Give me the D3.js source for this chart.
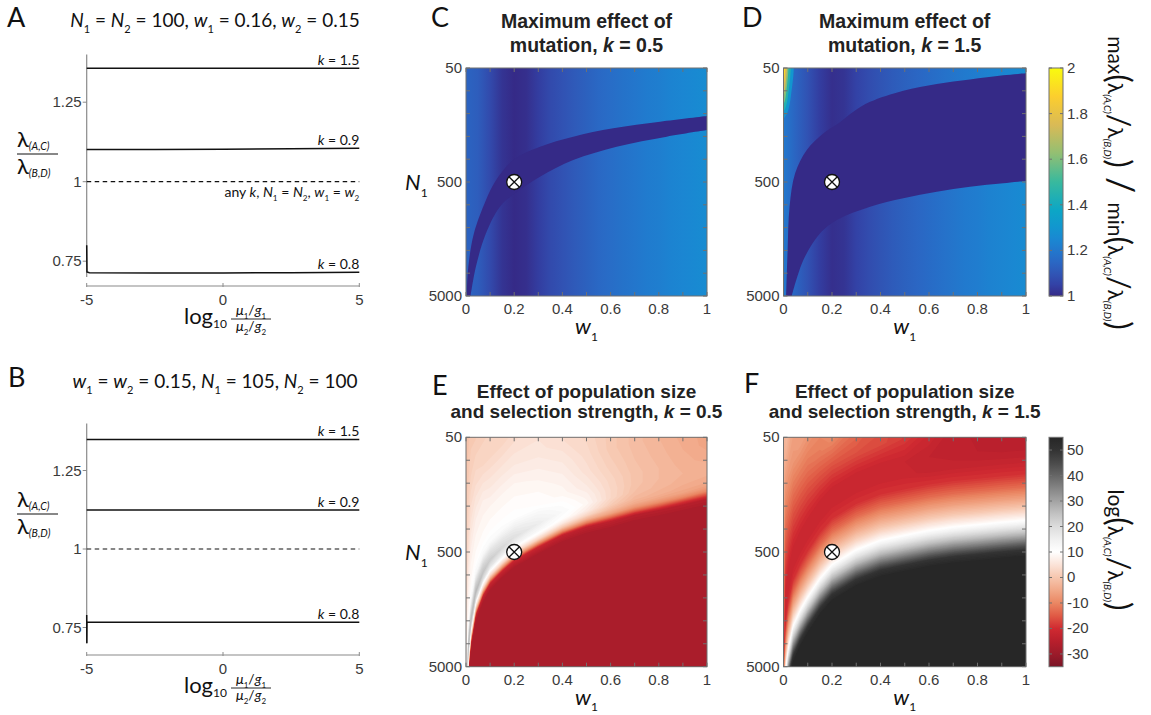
<!DOCTYPE html>
<html>
<head>
<meta charset="utf-8">
<script src="https://cdn.jsdelivr.net/npm/d3@7"></script>
<style>
  html, body { margin: 0; padding: 0; background: #fff; }
  svg { display: block; }
</style>
</head>
<body>
<script>
// ================= data =================
// Panels A and B: ratio of long-run growth rates against log10 of the mutation/generation ratio
const muTicks = [-5, 0, 5];
const ratioTicks = [0.75, 1, 1.25];
const ratioTickLabels = ["0.75", "1", "1.25"];

const aX = [-5, -2.5, 0, 2.5, 5];
const aK15 = [1.357, 1.357, 1.357, 1.357, 1.357];
const aK09 = [1.101, 1.101, 1.102, 1.104, 1.105];
const aK08X = [-5, -4.99, -4.9, -2.5, 0, 2.5, 5];
const aK08 = [0.80, 0.716, 0.714, 0.713, 0.713, 0.714, 0.715];

const bX = [-5, -2.5, 0, 2.5, 5];
const bK15 = [1.349, 1.349, 1.349, 1.349, 1.349];
const bK09 = [1.124, 1.124, 1.124, 1.124, 1.124];
const bK08X = [-5, -4.995, -4.99, -2.5, 0, 2.5, 5];
const bK08 = [0.79, 0.70, 0.767, 0.767, 0.767, 0.767, 0.767];

const neutralX = [-5, 5];
const neutralY = [1, 1];

// Heat-map axes
const wTicks = [0, 0.1, 0.2, 0.3, 0.4, 0.5, 0.6, 0.7, 0.8, 0.9, 1];
const wTickLabels = ["0", "", "0.2", "", "0.4", "", "0.6", "", "0.8", "", "1"];
const nLabelTicks = [50, 500, 5000];
const maxRatioTicks = [1, 1.2, 1.4, 1.6, 1.8, 2];
const logRatioTicks = [-30, -20, -10, 0, 10, 20, 30, 40, 50];
const marker = { w: 0.2, n: 500 };

// Panels C and D: background value across w1, dark band where the ratio is ~1
const stripeW = [0, 0.05, 0.1, 0.15, 0.2, 0.25, 0.3, 0.35, 0.4, 0.45, 0.5, 0.55, 0.6, 0.65, 0.7, 0.75, 0.8, 0.85, 0.9, 0.95, 1];
const cStripe = [1.14, 1.12, 1.07, 1.02, 1.0, 1.01, 1.04, 1.07, 1.09, 1.11, 1.13, 1.15, 1.165, 1.18, 1.195, 1.21, 1.22, 1.235, 1.245, 1.255, 1.265];
const dStripe = [1.2, 1.14, 1.09, 1.04, 1.01, 1.02, 1.05, 1.075, 1.095, 1.115, 1.13, 1.145, 1.16, 1.175, 1.19, 1.205, 1.215, 1.23, 1.24, 1.25, 1.26];

const cUpW = [0.003, 0.0097, 0.033, 0.083, 0.12, 0.196, 0.307, 0.445, 0.611, 0.805, 1.0];
const cUpN = [5000, 2770, 1410, 720, 500, 321, 245, 200, 169, 148, 132];
const cLoW = [0.019, 0.041, 0.083, 0.141, 0.203, 0.307, 0.445, 0.625, 0.833, 1.0];
const cLoN = [5000, 2770, 1410, 823, 629, 449, 321, 245, 200, 175];

const dUpW = [0.011, 0.017, 0.025, 0.048, 0.096, 0.165, 0.227, 0.288, 0.357, 0.494, 0.632, 0.769, 0.906, 1.0];
const dUpN = [5000, 1974, 823, 420, 262, 187, 153, 121, 99, 79, 69, 63, 58, 55.7];
const dLoW = [0.034, 0.082, 0.151, 0.22, 0.357, 0.494, 0.632, 0.769, 0.906, 1.0];
const dLoN = [5000, 2417, 1410, 1077, 823, 695, 608, 550, 513, 490];

// hot corner of panel D (small w1, small N1): nested level outlines
const hotLevels = [1.3, 1.45, 1.6, 1.75, 1.9];
const hotW = [[0, 0.035, 0.03, 0.015, 0], [0, 0.024, 0.018, 0.008, 0], [0, 0.016, 0.012, 0.005, 0], [0, 0.011, 0.008, 0], [0, 0.007, 0.004, 0]];
const hotN = [[40, 40, 90, 125, 140], [40, 40, 90, 112, 120], [40, 40, 80, 98, 104], [40, 40, 72, 90], [40, 40, 62, 72]];

// Panels E and F: log ratio sampled on columns of w1 and rows of offset (decades of N1)
// from a reference curve N1 = ref(w1)
const eW = [0, 0.005, 0.01, 0.02, 0.04, 0.07, 0.1, 0.15, 0.2, 0.3, 0.4, 0.5, 0.6, 0.7, 0.8, 0.9, 1.0];
const eRefN = [31600, 8500, 5000, 2950, 1660, 1120, 870, 680, 550, 420, 330, 280, 250, 220, 200, 180, 160];
const eD = [-2.8, -2.0, -1.5, -1.1, -0.8, -0.6, -0.45, -0.33, -0.24, -0.17, -0.11, -0.07, -0.035, 0, 0.035, 0.1, 1.6];
const eCols = [
  [-1, 0, 1.5, 3, 5, 8, 9, 10.5, 13, 15, 13, 9, 3, -8, -22, -28, -28],
  [-1, 0, 2, 4, 6, 8, 9, 12, 19, 22, 17, 9, 3, -8, -22, -28, -28],
  [-0.5, -0.5, 1.5, 4, 6.5, 8, 9, 13, 22, 27, 20, 9, 3, -8, -22, -28, -28],
  [0, 0, 1.5, 4.5, 7, 8.5, 9.5, 13, 22, 27, 20, 9, 3, -8, -22, -28, -28],
  [0.5, 0.5, 1, 4, 7, 8.5, 9.5, 13, 22, 27, 20, 9, 3, -8, -22, -28, -28],
  [1, 1, 1, 3, 7, 8.5, 9.5, 12.5, 21, 25, 19, 9, 3, -8, -22, -28, -28],
  [1.5, 1.5, 1.5, 2.5, 6, 8.5, 9.5, 12, 19, 23, 17.5, 9, 3, -8, -22, -28, -28],
  [2, 2, 2, 2.5, 6, 8.5, 9.5, 11.5, 17.5, 21, 16, 9, 3, -8, -22, -28, -28],
  [3, 3, 3, 3, 6, 8.5, 9.5, 11, 16, 19, 14.5, 8.5, 2.5, -8, -22, -28, -28],
  [4, 4, 4, 4, 5.5, 7.5, 9, 10, 13.5, 16, 12.5, 8, 2, -9, -22, -28, -28],
  [4, 4, 4, 4, 4, 6, 7.5, 8.5, 10.5, 12, 10, 6, 0, -10, -23, -28, -28],
  [2.5, 2.5, 2.5, 2.5, 2.5, 3.5, 4.5, 6, 7.5, 8.5, 6.5, 3, -3, -12, -24, -28, -28],
  [0.5, 0.5, 0.5, 0.5, 0.5, 0.5, 1.5, 2.5, 3, 3, 1, -2, -6, -14, -24, -28, -28],
  [-1.5, -1.5, -1.5, -1.5, -1.5, -1.5, -1, -0.5, -0.5, -1, -2.5, -4.5, -8, -15, -25, -28, -28],
  [-3, -3, -3, -3, -3, -3, -2.5, -2, -2, -2.5, -3.5, -5.5, -9, -16, -25, -28, -28],
  [-4.5, -4.5, -4.5, -4.5, -4.5, -4.5, -4, -3.5, -3, -3.5, -4.5, -6, -9.5, -17, -25, -28, -28],
  [-5.5, -5.5, -5.5, -5.5, -5.5, -5.5, -5.5, -4.5, -3.5, -4, -5, -6.5, -10, -17, -25, -28, -28]
];

const fW = [0, 0.005, 0.01, 0.02, 0.04, 0.07, 0.1, 0.15, 0.2, 0.3, 0.4, 0.5, 0.6, 0.7, 0.8, 0.9, 1.0];
const fRefN = [40000, 14000, 9300, 6300, 4000, 2900, 2240, 1550, 1170, 870, 720, 650, 590, 550, 525, 500, 480];
const fD = [-2.9, -2.2, -1.7, -1.35, -1.1, -0.9, -0.78, -0.66, -0.55, -0.45, -0.36, -0.27, -0.2, -0.13, -0.07, 0, 0.05, 1.1];
const fCols = [
  [-1, -4, -7, -9.5, -11, -12, -14, -16, -13, -6, 1, 9, 18, 28, 38, 50, 54, 54],
  [-1.2, -4.6, -11.3, -15.9, -19.3, -22, -21.5, -19, -13, -6, 1, 9, 18, 28, 38, 50, 54, 54],
  [-1.5, -2.5, -10, -15.3, -19, -22, -21.5, -19, -13, -6, 1, 9, 18, 28, 38, 50, 54, 54],
  [-2, -2, -8.7, -14.5, -18.7, -22, -21.5, -19, -13, -6, 1, 9, 18, 28, 38, 50, 54, 54],
  [-4, -4, -7.6, -13.9, -18.4, -22, -21.5, -19, -13, -6, 1, 9, 18, 28, 38, 50, 54, 54],
  [-5.5, -5.5, -6.7, -13.4, -18.2, -22, -21.5, -19, -13, -6, 1, 9, 18, 28, 38, 50, 54, 54],
  [-7, -7, -7, -13, -18, -22, -21.5, -19, -13, -6, 1, 9, 18, 28, 38, 50, 54, 54],
  [-8, -8, -8, -11.3, -17.2, -22, -21.5, -19, -13, -6, 1, 9, 18, 28, 38, 50, 54, 54],
  [-9, -9, -9, -9.6, -16.5, -22, -21.5, -19, -13, -6, 1, 9, 18, 28, 38, 50, 54, 54],
  [-12, -12, -12, -12, -16.1, -22, -21.5, -19, -13, -6, 1, 9, 18, 28, 38, 50, 54, 54],
  [-15, -15, -15, -15, -16.6, -22, -21.5, -19, -13, -6, 1, 9, 18, 28, 38, 50, 54, 54],
  [-18, -18, -18, -18, -18.2, -22, -21.5, -19, -13, -6, 1, 9, 18, 28, 38, 50, 54, 54],
  [-21, -21, -21, -21, -21, -23, -22.5, -19, -13, -6, 1, 9, 18, 28, 38, 50, 54, 54],
  [-23.5, -23.5, -23.5, -23.5, -23.5, -23.5, -22.5, -19, -13, -6, 1, 9, 18, 28, 38, 50, 54, 54],
  [-24.5, -24.5, -24.5, -24.5, -24.5, -24, -22.5, -19, -13, -6, 1, 9, 18, 28, 38, 50, 54, 54],
  [-25, -25, -25, -25, -25, -24.5, -22.5, -19, -13, -6, 1, 9, 18, 28, 38, 50, 54, 54],
  [-25, -25, -25, -25, -25, -24.5, -22.5, -19, -13, -6, 1, 9, 18, 28, 38, 50, 54, 54]
];

// colour maps
const parulaStops = [1, 1.05, 1.1, 1.15, 1.2, 1.25, 1.3, 1.375, 1.5, 1.625, 1.75, 1.875, 2];
const parulaColors = ["#352a87", "#3342a6", "#3056b6", "#2a68c4", "#2278cd", "#1a88d2", "#1296cf", "#0ca6c6", "#38b99e", "#92bf73", "#d9ba56", "#fcce2e", "#f9fb0e"];
const logStops = [-35, -30, -25, -20, -15, -10, -5, 0, 5, 10, 15, 20, 25, 30, 35, 40, 45, 50, 55];
const logColors = ["#7a1526", "#9c1b2a", "#b81f2c", "#d02a31", "#e05a45", "#ea8763", "#f1a888", "#f6c6ae", "#fbe3d8", "#ffffff", "#f0f0f0", "#dcdcdc", "#c2c2c2", "#a3a3a3", "#858585", "#666666", "#4a4a4a", "#333333", "#262626"];

// ================= drawing =================
const HUM = "Lato, 'Open Sans', 'DejaVu Sans', sans-serif";
const HELV = "'Liberation Sans', Arial, Helvetica, sans-serif";
const parula = d3.scaleLinear().domain(parulaStops).range(parulaColors).clamp(true);
const logColor = d3.scaleLinear().domain(logStops).range(logColors).clamp(true);

const svg = d3.select("body").append("svg").attr("width", 1151).attr("height", 715);
const defs = svg.append("defs");

function rich(sel, segs, size) {
  let cur = 0;
  segs.forEach(s => {
    if (typeof s === "string") s = { t: s };
    const fs = s.fs || (s.sub ? size * 0.58 : size);
    const target = s.sub ? size * (s.lift || 0.3) : 0;
    const ts = sel.append("tspan").text(s.t).attr("font-size", fs);
    if (target !== cur) ts.attr("dy", target - cur);
    cur = target;
    if (s.i) ts.attr("font-style", "italic");
    if (s.b) ts.attr("font-weight", "bold");
    if (s.dx) ts.attr("dx", s.dx);
  });
  return sel;
}

function label(x, y, txt, size, opts = {}) {
  return svg.append("text").attr("x", x).attr("y", y)
    .attr("font-family", opts.family || HUM).attr("font-size", size)
    .attr("font-weight", opts.weight || null)
    .attr("text-anchor", opts.anchor || "start")
    .attr("fill", opts.fill || "#111").text(txt);
}

// ---------- panels A and B ----------
function linePanel(p) {
  const g = svg.append("g");
  const x = d3.scaleLinear().domain([-5, 5]).range([86.7, 359.3]);
  const y = d3.scaleLinear().domain([0.7, 1.4]).range([p.yLow, p.yHigh]);
  const axisCol = "#8a8a8a";
  g.append("line").attr("x1", x(-5)).attr("x2", x(-5)).attr("y1", y(1.4)).attr("y2", y(0.7))
    .attr("stroke", axisCol).attr("stroke-width", 1.2);
  ratioTicks.forEach((v, i) => {
    g.append("line").attr("x1", x(-5) - 4).attr("x2", x(-5)).attr("y1", y(v)).attr("y2", y(v))
      .attr("stroke", axisCol).attr("stroke-width", 1);
    g.append("text").attr("x", x(-5) - 5).attr("y", y(v) + 5).attr("text-anchor", "end")
      .attr("font-family", HELV).attr("font-size", 15).attr("fill", "#3a3a3a").text(ratioTickLabels[i]);
  });
  g.append("line").attr("x1", x(-5)).attr("x2", x(5)).attr("y1", p.axisY).attr("y2", p.axisY)
    .attr("stroke", axisCol).attr("stroke-width", 1.2);
  muTicks.forEach(v => {
    g.append("line").attr("x1", x(v)).attr("x2", x(v)).attr("y1", p.axisY - 3).attr("y2", p.axisY + 1)
      .attr("stroke", axisCol).attr("stroke-width", 1);
    g.append("text").attr("x", x(v)).attr("y", p.axisY + 19).attr("text-anchor", "middle")
      .attr("font-family", HELV).attr("font-size", 15).attr("fill", "#3a3a3a").text(String(v));
  });
  const line = d3.line().x(d => x(d[0])).y(d => y(d[1]));
  p.series.forEach(s => {
    g.append("path").datum(d3.zip(s.x, s.y)).attr("d", line).attr("fill", "none")
      .attr("stroke", "#111").attr("stroke-width", s.dash ? 1.2 : 1.5)
      .attr("stroke-dasharray", s.dash || null);
    if (s.k) {
      const t = g.append("text").attr("x", x(5)).attr("y", y(s.y[s.y.length - 1]) - 3.5)
        .attr("text-anchor", "end").attr("font-family", HUM).attr("font-size", 14).attr("fill", "#111");
      rich(t, [{ t: "k", i: true }, " = " + s.k], 14);
    }
  });
  if (p.note) {
    const t = g.append("text").attr("x", x(5)).attr("y", y(1) + 15).attr("text-anchor", "end")
      .attr("font-family", HUM).attr("font-size", 14).attr("fill", "#111");
    rich(t, ["any ", { t: "k", i: true }, ", ", { t: "N", i: true }, { t: "1", sub: true }, " = ",
      { t: "N", i: true }, { t: "2", sub: true }, ", ", { t: "w", i: true }, { t: "1", sub: true }, " = ",
      { t: "w", i: true }, { t: "2", sub: true }], 14);
  }
  // y label: lambda ratio
  const ly = p.fracY;
  const t1 = g.append("text").attr("x", 17).attr("y", ly - 7).attr("font-family", HUM).attr("font-size", 22).attr("fill", "#111");
  rich(t1, ["\u03bb", { t: "(A,C)", sub: true, i: true, fs: 10.5, lift: 0.15 }], 22);
  g.append("line").attr("x1", 17).attr("x2", 58).attr("y1", ly).attr("y2", ly).attr("stroke", "#111").attr("stroke-width", 1);
  const t2 = g.append("text").attr("x", 17).attr("y", ly + 20).attr("font-family", HUM).attr("font-size", 22).attr("fill", "#111");
  rich(t2, ["\u03bb", { t: "(B,D)", sub: true, i: true, fs: 10.5, lift: 0.15 }], 22);
  // x label: log10 of (mu1/g1)/(mu2/g2)
  const bx = p.labelY;
  const lt = g.append("text").attr("x", 184).attr("y", bx).attr("font-family", HUM).attr("font-size", 22).attr("fill", "#111");
  rich(lt, ["log", { t: "10", sub: true, fs: 12, lift: 0.2 }], 22);
  const fx = 251;
  const num = g.append("text").attr("x", fx).attr("y", bx - 9).attr("text-anchor", "middle").attr("font-family", HUM).attr("font-size", 14).attr("fill", "#111");
  rich(num, [{ t: "\u03bc", i: true }, { t: "1", sub: true, fs: 8 }, "/", { t: "g", i: true }, { t: "1", sub: true, fs: 8 }], 14);
  g.append("line").attr("x1", 231).attr("x2", 271).attr("y1", bx - 5).attr("y2", bx - 5).attr("stroke", "#111").attr("stroke-width", 0.9);
  const den = g.append("text").attr("x", fx).attr("y", bx + 7).attr("text-anchor", "middle").attr("font-family", HUM).attr("font-size", 14).attr("fill", "#111");
  rich(den, [{ t: "\u03bc", i: true }, { t: "2", sub: true, fs: 8 }, "/", { t: "g", i: true }, { t: "2", sub: true, fs: 8 }], 14);
  // title
  const tt = g.append("text").attr("x", 215).attr("y", p.titleY).attr("text-anchor", "middle")
    .attr("font-family", HUM).attr("font-size", 19).attr("fill", "#111");
  rich(tt, p.title, 19);
}

linePanel({
  yLow: 277.1, yHigh: 54.5, axisY: 286, fracY: 154, labelY: 324, titleY: 27, note: true,
  title: [{ t: "N", i: true }, { t: "1", sub: true }, " = ", { t: "N", i: true }, { t: "2", sub: true }, " = 100, ",
    { t: "w", i: true }, { t: "1", sub: true }, " = 0.16, ", { t: "w", i: true }, { t: "2", sub: true }, " = 0.15"],
  series: [
    { x: aX, y: aK15, k: "1.5" }, { x: aX, y: aK09, k: "0.9" }, { x: aK08X, y: aK08, k: "0.8" },
    { x: neutralX, y: neutralY, dash: "4.5,3.5" }
  ]
});
linePanel({
  yLow: 643.2, yHigh: 423.4, axisY: 655, fracY: 514, labelY: 693, titleY: 388, note: false,
  title: [{ t: "w", i: true }, { t: "1", sub: true }, " = ", { t: "w", i: true }, { t: "2", sub: true }, " = 0.15, ",
    { t: "N", i: true }, { t: "1", sub: true }, " = 105, ", { t: "N", i: true }, { t: "2", sub: true }, " = 100"],
  series: [
    { x: bX, y: bK15, k: "1.5" }, { x: bX, y: bK09, k: "0.9" }, { x: bK08X, y: bK08, k: "0.8" },
    { x: neutralX, y: neutralY, dash: "4.5,3.5" }
  ]
});

// ---------- heat-map panels ----------
function heatScales(box) {
  return {
    x: d3.scaleLinear().domain([0, 1]).range([box.x0, box.x1]),
    y: d3.scaleLog().domain([50, 5000]).range([box.y0, box.y1])
  };
}

function clipFor(id, box) {
  defs.append("clipPath").attr("id", id).append("rect")
    .attr("x", box.x0).attr("y", box.y0).attr("width", box.x1 - box.x0).attr("height", box.y1 - box.y0);
  return svg.append("g").attr("clip-path", `url(#${id})`);
}

function bandPanel(id, box, stripe, upW, upN, loW, loN, hot) {
  const { x, y } = heatScales(box);
  const g = clipFor(id, box);
  const grad = defs.append("linearGradient").attr("id", id + "-bg").attr("gradientUnits", "userSpaceOnUse")
    .attr("x1", x(0)).attr("x2", x(1)).attr("y1", 0).attr("y2", 0);
  stripeW.forEach((w, i) => grad.append("stop").attr("offset", w).attr("stop-color", parula(stripe[i])));
  g.append("rect").attr("x", box.x0).attr("y", box.y0).attr("width", box.x1 - box.x0).attr("height", box.y1 - box.y0)
    .attr("fill", `url(#${id}-bg)`);
  if (hot) {
    const hl = d3.line().x(d => x(d[0])).y(d => y(d[1])).curve(d3.curveCatmullRom);
    hotLevels.forEach((v, i) => {
      g.append("path").datum(d3.zip(hotW[i], hotN[i])).attr("d", d => hl(d) + "Z").attr("fill", parula(v));
    });
  }
  const edge = d3.line().x(d => x(d[0])).y(d => y(d[1])).curve(d3.curveCatmullRom);
  const upper = edge(d3.zip(upW, upN));
  const lower = edge(d3.zip(loW, loN).reverse());
  g.append("path").attr("d", upper + "L" + lower.slice(1) + "Z").attr("fill", parula(1));
  return { x, y };
}

function fieldPanel(id, box, W, refN, D, cols, thresholds) {
  const { x, y } = heatScales(box);
  const g = clipFor(id, box);
  const n = W.length, m = D.length;
  const values = new Array(n * m);
  cols.forEach((col, i) => col.forEach((v, j) => { values[j * n + i] = v; }));
  const gx = d3.scaleLinear().domain([0, ...d3.range(n).map(i => i + 0.5), n]).range([W[0], ...W, W[n - 1]]);
  const gy = d3.scaleLinear().domain([0, ...d3.range(m).map(j => j + 0.5), m]).range([D[0], ...D, D[m - 1]]);
  const ref = d3.scaleLinear().domain(W).range(refN.map(Math.log10));
  const proj = p => {
    const w = gx(p[0]);
    const ln = ref(w) + gy(p[1]);
    return x(w).toFixed(2) + "," + y(Math.pow(10, ln)).toFixed(2);
  };
  const step = thresholds[1] - thresholds[0];
  const bands = d3.contours().size([n, m]).thresholds(thresholds)(values);
  g.selectAll(null).data(bands).join("path")
    .attr("d", c => c.coordinates.map(poly => poly.map(ring => "M" + ring.map(proj).join("L") + "Z").join("")).join(""))
    .attr("fill", c => logColor(c.value + step / 2));
  return { x, y };
}

function heatAxes(box, sc, showN) {
  const g = svg.append("g");
  const col = "#707070";
  wTicks.forEach((v, i) => {
    g.append("line").attr("x1", sc.x(v)).attr("x2", sc.x(v)).attr("y1", box.y1).attr("y2", box.y1 - 4).attr("stroke", col);
    g.append("line").attr("x1", sc.x(v)).attr("x2", sc.x(v)).attr("y1", box.y0).attr("y2", box.y0 + 4).attr("stroke", col);
    if (wTickLabels[i]) g.append("text").attr("x", sc.x(v)).attr("y", box.y1 + 18).attr("text-anchor", "middle")
      .attr("font-family", HELV).attr("font-size", 15).attr("fill", "#3a3a3a").text(wTickLabels[i]);
  });
  const nTicks = d3.range(11).map(i => 50 * Math.pow(10, i / 5));
  nTicks.forEach(v => {
    g.append("line").attr("x1", box.x0).attr("x2", box.x0 + 4).attr("y1", sc.y(v)).attr("y2", sc.y(v)).attr("stroke", col);
    g.append("line").attr("x1", box.x1).attr("x2", box.x1 - 4).attr("y1", sc.y(v)).attr("y2", sc.y(v)).attr("stroke", col);
  });
  nLabelTicks.forEach(v => g.append("text").attr("x", box.x0 - 4).attr("y", sc.y(v) + 5).attr("text-anchor", "end")
    .attr("font-family", HELV).attr("font-size", 15).attr("fill", "#3a3a3a").text(String(v)));
  g.append("rect").attr("x", box.x0).attr("y", box.y0).attr("width", box.x1 - box.x0).attr("height", box.y1 - box.y0)
    .attr("fill", "none").attr("stroke", col).attr("stroke-width", 1);
  // marker at the reference parameter set
  const mx = sc.x(marker.w), my = sc.y(marker.n), r = 7.5, q = r * Math.SQRT1_2;
  g.append("circle").attr("cx", mx).attr("cy", my).attr("r", r).attr("fill", "#fff").attr("stroke", "#111").attr("stroke-width", 1.3);
  g.append("path").attr("d", `M${mx - q},${my - q}L${mx + q},${my + q}M${mx - q},${my + q}L${mx + q},${my - q}`)
    .attr("stroke", "#111").attr("stroke-width", 1.3);
  // axis labels
  const cx = (box.x0 + box.x1) / 2;
  const wl = g.append("text").attr("x", cx).attr("y", box.y1 + 38).attr("text-anchor", "middle")
    .attr("font-family", HUM).attr("font-size", 22).attr("fill", "#111");
  rich(wl, [{ t: "w", i: true }, { t: "1", sub: true, fs: 12 }], 22);
  if (showN) {
    const nl = g.append("text").attr("x", 405).attr("y", sc.y(500) + 8).attr("font-family", HUM)
      .attr("font-size", 22).attr("fill", "#111");
    rich(nl, [{ t: "N", i: true }, { t: "1", sub: true, fs: 12 }], 22);
  }
}

function heatTitle(cx, y1, lines, size, gap) {
  lines.forEach((segs, i) => {
    const t = svg.append("text").attr("x", cx).attr("y", y1 + i * gap).attr("text-anchor", "middle")
      .attr("font-family", HELV).attr("font-weight", "bold").attr("font-size", size).attr("fill", "#222");
    rich(t, segs, size);
  });
}

const boxC = { x0: 466, x1: 707, y0: 68, y1: 296 };
const boxD = { x0: 783.5, x1: 1026, y0: 68, y1: 296 };
const boxE = { x0: 466, x1: 707, y0: 437.3, y1: 666.7 };
const boxF = { x0: 783.5, x1: 1026, y0: 437.3, y1: 666.7 };

const scC = bandPanel("pc", boxC, cStripe, cUpW, cUpN, cLoW, cLoN, false);
heatAxes(boxC, scC, true);
const scD = bandPanel("pd", boxD, dStripe, dUpW, dUpN, dLoW, dLoN, true);
heatAxes(boxD, scD, false);

const logThresholds = d3.range(-36, 56, 1);
const scE = fieldPanel("pe", boxE, eW, eRefN, eD, eCols, logThresholds);
heatAxes(boxE, scE, true);
const scF = fieldPanel("pf", boxF, fW, fRefN, fD, fCols, logThresholds);
heatAxes(boxF, scF, false);

heatTitle(586.5, 28, [["Maximum effect of"], ["mutation, ", { t: "k", i: true }, " = 0.5"]], 19.5, 23.5);
heatTitle(904.7, 28, [["Maximum effect of"], ["mutation, ", { t: "k", i: true }, " = 1.5"]], 19.5, 23.5);
heatTitle(586.5, 398, [["Effect of population size"], ["and selection strength, ", { t: "k", i: true }, " = 0.5"]], 19, 19.5);
heatTitle(904.7, 398, [["Effect of population size"], ["and selection strength, ", { t: "k", i: true }, " = 1.5"]], 19, 19.5);

// ---------- colour bars ----------
function colorBar(id, box, stops, scale, ticks, fmt) {
  const [lo, hi] = [stops[0], stops[stops.length - 1]];
  const grad = defs.append("linearGradient").attr("id", id).attr("x1", 0).attr("x2", 0).attr("y1", 1).attr("y2", 0);
  stops.forEach(v => grad.append("stop").attr("offset", (v - lo) / (hi - lo)).attr("stop-color", scale(v)));
  const y = d3.scaleLinear().domain([lo, hi]).range([box.y1, box.y0]);
  svg.append("rect").attr("x", box.x0).attr("y", box.y0).attr("width", box.x1 - box.x0).attr("height", box.y1 - box.y0)
    .attr("fill", `url(#${id})`).attr("stroke", "#707070").attr("stroke-width", 1);
  ticks.forEach(v => {
    svg.append("line").attr("x1", box.x1).attr("x2", box.x1 - 3).attr("y1", y(v)).attr("y2", y(v)).attr("stroke", "#707070");
    svg.append("line").attr("x1", box.x0).attr("x2", box.x0 + 3).attr("y1", y(v)).attr("y2", y(v)).attr("stroke", "#707070");
    svg.append("text").attr("x", box.x1 + 4).attr("y", y(v) + 5).attr("font-family", HELV).attr("font-size", 15)
      .attr("fill", "#3a3a3a").text(fmt(v));
  });
}
colorBar("cb-max", { x0: 1049, x1: 1063, y0: 68, y1: 296 }, parulaStops, parula, maxRatioTicks, v => String(v));
colorBar("cb-log", { x0: 1049, x1: 1063, y0: 437.3, y1: 666.7 }, logStops, logColor, logRatioTicks, v => String(v));

function rotatedLabel(x, y, segs, size) {
  const t = svg.append("text").attr("transform", `translate(${x},${y}) rotate(90)`).attr("text-anchor", "middle")
    .attr("font-family", HUM).attr("font-size", size).attr("fill", "#111");
  rich(t, segs, size);
}
const lamAC = [{ t: "\u03bb" }, { t: "(A,C)", sub: true, i: true, fs: 10, lift: 0.2 }];
const lamBD = [{ t: "\u03bb" }, { t: "(B,D)", sub: true, i: true, fs: 10, lift: 0.2 }];
const bigOpen = { t: "(", fs: 32 }, bigClose = { t: ")", fs: 32 }, slash = { t: "/", fs: 30 };
rotatedLabel(1108, 183, ["max", bigOpen, ...lamAC, slash, ...lamBD, bigClose, { t: " / ", fs: 36 }, "min", bigOpen, ...lamAC, slash, ...lamBD, bigClose], 21);
rotatedLabel(1108, 550, ["log", bigOpen, ...lamAC, slash, ...lamBD, bigClose], 21);

// ---------- panel letters ----------
[["A", 7, 27], ["B", 8, 387], ["C", 431, 27], ["D", 742, 27], ["E", 432, 395], ["F", 744, 393]]
  .forEach(([s, x, y]) => label(x, y, s, 27, { fill: "#111" }));
</script>
</body>
</html>
